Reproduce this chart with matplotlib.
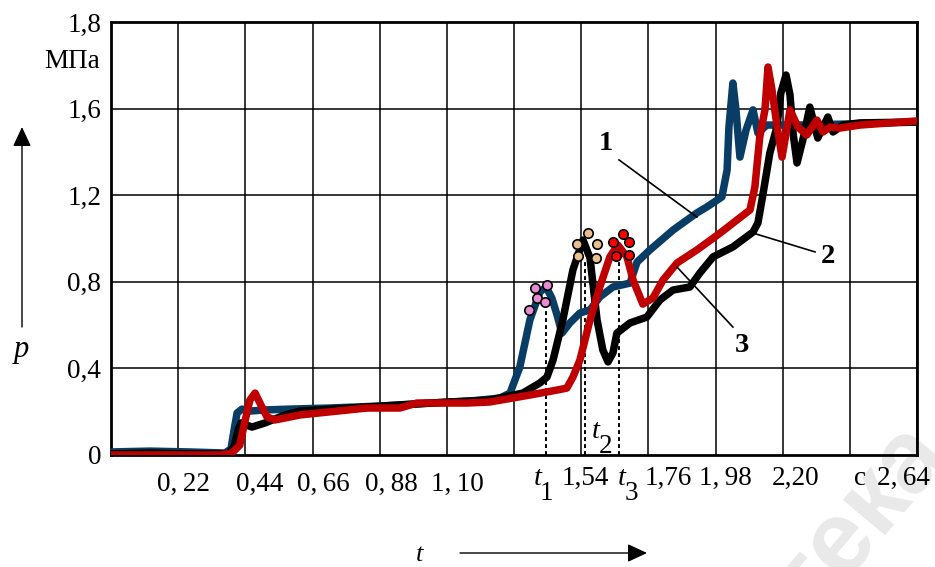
import matplotlib
matplotlib.use("Agg")
import matplotlib.pyplot as plt

# ---------------- data ----------------
t_blue = [0, 0.128, 0.259, 0.373, 0.393, 0.403, 0.413, 0.429, 0.455, 0.504, 0.586, 0.717,
          0.881, 1.045, 1.176, 1.274, 1.307, 1.339, 1.372, 1.405, 1.425, 1.444, 1.461, 1.477,
          1.503, 1.536, 1.569, 1.601, 1.644, 1.700, 1.723, 1.765, 1.841, 1.919, 1.952, 2.001,
          2.018, 2.024, 2.037, 2.047, 2.060, 2.080, 2.103, 2.119, 2.148, 2.256, 2.420, 2.640]
p_blue = [0.014, 0.018, 0.014, 0.009, 0.028, 0.115, 0.194, 0.212, 0.203, 0.208, 0.212, 0.217,
          0.226, 0.240, 0.249, 0.263, 0.286, 0.406, 0.624, 0.753, 0.776, 0.725, 0.647, 0.563,
          0.610, 0.656, 0.670, 0.730, 0.776, 0.794, 0.891, 0.947, 1.039, 1.118, 1.146, 1.192,
          1.316, 1.515, 1.718, 1.594, 1.376, 1.501, 1.594, 1.487, 1.524, 1.524, 1.529, 1.538]

t_black = [0, 0.128, 0.259, 0.383, 0.403, 0.416, 0.426, 0.442, 0.462, 0.504, 0.570, 0.619,
           0.783, 0.946, 1.110, 1.241, 1.349, 1.405, 1.428, 1.448, 1.480, 1.513, 1.546, 1.569,
           1.592, 1.611, 1.628, 1.644, 1.657, 1.700, 1.755, 1.798, 1.841, 1.896, 1.929, 1.972,
           2.037, 2.103, 2.119, 2.135, 2.158, 2.181, 2.194, 2.211, 2.224, 2.234, 2.247, 2.266,
           2.289, 2.315, 2.348, 2.365, 2.397, 2.453, 2.640]
p_black = [0.005, 0.009, 0.005, 0.005, 0.037, 0.115, 0.148, 0.139, 0.129, 0.148, 0.185, 0.203,
           0.217, 0.231, 0.245, 0.254, 0.286, 0.333, 0.360, 0.439, 0.624, 0.855, 0.993, 0.910,
           0.624, 0.485, 0.430, 0.471, 0.563, 0.610, 0.637, 0.716, 0.762, 0.776, 0.841, 0.915,
           0.961, 1.030, 1.072, 1.201, 1.395, 1.515, 1.672, 1.755, 1.663, 1.487, 1.349, 1.455,
           1.607, 1.464, 1.561, 1.492, 1.524, 1.534, 1.538]

t_red = [0, 0.160, 0.357, 0.396, 0.422, 0.436, 0.455, 0.472, 0.491, 0.511, 0.537, 0.570,
         0.619, 0.838, 0.946, 1.002, 1.166, 1.241, 1.372, 1.461, 1.493, 1.513, 1.536, 1.569,
         1.601, 1.634, 1.660, 1.690, 1.710, 1.742, 1.775, 1.808, 1.854, 1.919, 1.995, 2.093,
         2.109, 2.125, 2.142, 2.152, 2.165, 2.181, 2.198, 2.224, 2.250, 2.279, 2.312, 2.332,
         2.355, 2.387, 2.453, 2.640]
p_red = [0.0, 0.0, 0.0, 0.009, 0.046, 0.139, 0.254, 0.286, 0.231, 0.176, 0.162, 0.171,
         0.185, 0.217, 0.217, 0.240, 0.240, 0.245, 0.277, 0.300, 0.309, 0.360, 0.439, 0.624,
         0.776, 0.915, 0.970, 0.915, 0.808, 0.697, 0.725, 0.808, 0.887, 0.947, 1.025, 1.132,
         1.238, 1.469, 1.594, 1.792, 1.686, 1.524, 1.376, 1.594, 1.515, 1.478, 1.547, 1.492,
         1.515, 1.510, 1.524, 1.543]

# marker clusters near the first peaks
t_pink = [1.389, 1.428, 1.395, 1.421, 1.369]
p_pink = [0.771, 0.785, 0.725, 0.707, 0.670]
t_tan = [1.562, 1.526, 1.592, 1.529, 1.588]
p_tan = [1.025, 0.975, 0.975, 0.919, 0.910]
t_redm = [1.644, 1.677, 1.696, 1.654, 1.696]
p_redm = [0.984, 1.021, 0.984, 0.919, 0.924]

# characteristic times (dotted drop lines)
t_marks = [1.425, 1.552, 1.663]
p_marks = [0.70, 0.89, 0.90]

# axis ticks
x_grid = [0.22 * k for k in range(13)]
x_label_pos = [0.236, 0.488, 0.694, 0.917, 1.133, 1.552, 1.824, 2.011, 2.243, 2.594]
x_label_txt = ["0,\u200922", "0,44", "0,\u200966", "0,\u200988", "1,\u200910",
               "1,54", "1,76", "1,\u200998", "2,20", "2,\u200964"]
y_ticks = [0, 0.4, 0.8, 1.2, 1.6, 2.0]
y_tick_txt = ["0", "0,4", "0,8", "1,2", "1,6", "1,8"]

# ---------------- drawing ----------------
SERIF = ["Liberation Serif", "DejaVu Serif"]
plt.rcParams["font.family"] = SERIF

FS = 19.5
W, H = 935, 567
fig = plt.figure(figsize=(W / 100, H / 100), dpi=100)

# faint watermark (bottom right, cut by the picture edge as in the source)
fig.text(948 / W, 1 - 452 / H, "Библиотека", fontsize=74, color="#e9e9e9",
         family=["Liberation Sans", "DejaVu Sans"], fontweight="bold",
         rotation=50, rotation_mode="anchor", ha="right", va="baseline", zorder=-5)

ax = fig.add_axes([111 / W, 1 - 455 / H, (917 - 111) / W, (455 - 22) / H])
ax.set_zorder(1)
ax.patch.set_alpha(0)
ax.set_xlim(0, 2.64)
ax.set_ylim(0, 2.0)

for x in x_grid:
    ax.axvline(x, color="black", lw=1.1, zorder=1)
for y in y_ticks[1:-1]:
    ax.axhline(y, color="black", lw=1.1, zorder=1)

ax.set_xticks([])
ax.set_yticks(y_ticks)
ax.set_yticklabels(y_tick_txt, fontsize=FS)
ax.tick_params(axis="y", length=0, pad=7)
for s in ax.spines.values():
    s.set_linewidth(2.0)

# dotted drop lines
for tm, pm in zip(t_marks, p_marks):
    ax.plot([tm, tm], [0, pm], color="black", lw=1.4, ls=(0, (2, 1.6)), zorder=2)

lw = 5.4
ax.plot(t_blue, p_blue, color="#0a3d66", lw=lw, zorder=3, solid_joinstyle="round", solid_capstyle="round")
ax.plot(t_black, p_black, color="black", lw=lw, zorder=4, solid_joinstyle="round", solid_capstyle="round")
ax.plot(t_red, p_red, color="#c00000", lw=lw, zorder=5, solid_joinstyle="round", solid_capstyle="round")

msz = 46
ax.scatter(t_pink, p_pink, s=msz, color="#e98ad2", edgecolor="black", lw=1.2, zorder=6, clip_on=False)
ax.scatter(t_tan, p_tan, s=msz, color="#e9bf8d", edgecolor="black", lw=1.2, zorder=6, clip_on=False)
ax.scatter(t_redm, p_redm, s=msz, color="#ff0000", edgecolor="black", lw=1.2, zorder=6, clip_on=False)

# leader lines and curve numbers
leaders = [((1.664, 1.363), (1.919, 1.099), "1", (1.621, 1.441)),
           ((2.103, 1.025), (2.306, 0.938), "2", (2.348, 0.915)),
           ((1.854, 0.868), (2.037, 0.591), "3", (2.067, 0.508))]
for (a, b, lab, pos) in leaders:
    ax.plot([a[0], b[0]], [a[1], b[1]], color="black", lw=1.2, zorder=7)
    ax.text(pos[0], pos[1], lab, fontsize=FS + 1, fontweight="bold", ha="center", va="center", zorder=8)

# x labels (baseline placement)
for xp, txt in zip(x_label_pos, x_label_txt):
    yy = -0.166 if xp < 1.3 else -0.139
    ax.text(xp, yy, txt, fontsize=FS, ha="center", va="baseline", clip_on=False)

# t1, t2, t3 and unit "c"
def tsub(x, y, sub):
    ax.text(x, y, "t", fontsize=FS + 1, style="italic", ha="center", va="baseline", clip_on=False)
    ax.text(x + 0.031, y - 0.069, sub, fontsize=FS, ha="center", va="baseline", clip_on=False)

tsub(1.396, -0.139, "1")
tsub(1.674, -0.139, "3")
tsub(1.588, 0.079, "2")
ax.text(2.453, -0.139, "c", fontsize=FS, ha="center", va="baseline", clip_on=False)

# unit
fig.text(100 / W, 1 - 62 / H, "МПа", fontsize=FS, ha="right", va="center")

# axis arrows and symbols
fig.text(21 / W, 1 - 350 / H, "p", fontsize=22, style="italic", ha="center", va="center")
ax.annotate("", xy=(22, H - 127), xytext=(22, H - 327), xycoords="figure pixels",
            textcoords="figure pixels",
            arrowprops=dict(arrowstyle="-|>,head_length=0.6,head_width=0.28", color="black",
                            lw=1.0, mutation_scale=20, shrinkA=0, shrinkB=0))
fig.text(420 / W, 1 - 561 / H, "t", fontsize=19, style="italic", ha="center", va="baseline")
ax.annotate("", xy=(647, H - 553), xytext=(460, H - 553), xycoords="figure pixels",
            textcoords="figure pixels",
            arrowprops=dict(arrowstyle="-|>,head_length=0.6,head_width=0.28", color="black",
                            lw=1.0, mutation_scale=20, shrinkA=0, shrinkB=0))

fig.savefig("out.png", dpi=100)
